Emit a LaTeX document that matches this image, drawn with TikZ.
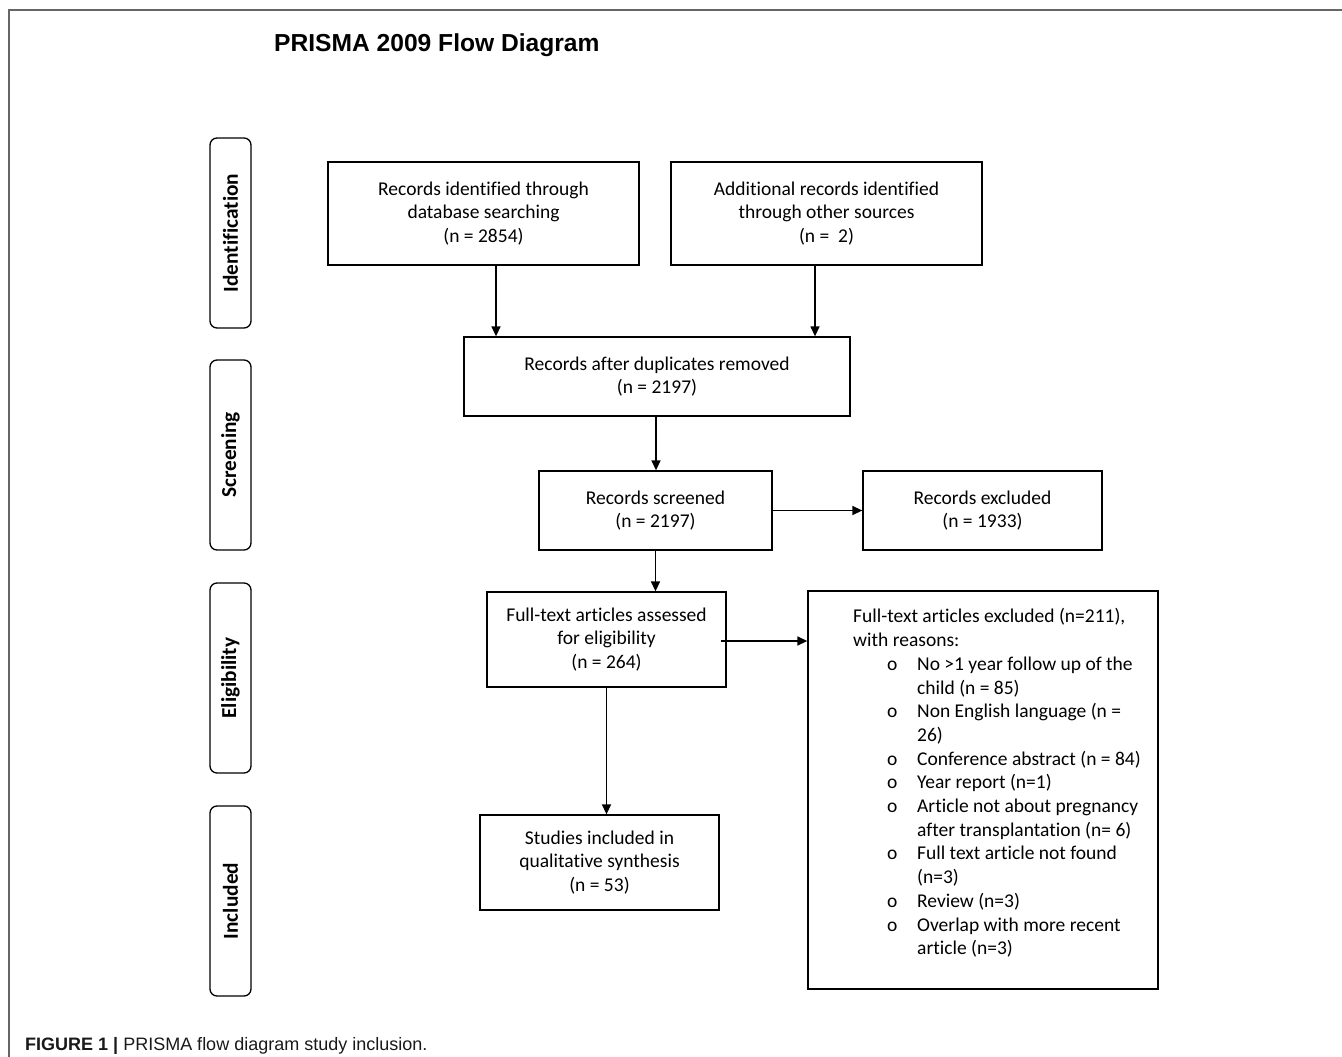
\documentclass[tikz,border=0pt]{standalone}
\usepackage{fontspec}
\setmainfont[Ligatures=NoCommon]{Carlito}
\newfontfamily\arialfont{Liberation Sans}
\usetikzlibrary{arrows.meta}
\begin{document}
\begin{tikzpicture}[x=1pt,y=-1pt,
  txt/.style={font=\fontsize{19.5}{23.7}\selectfont},
  box/.style={draw, line width=1.3pt, inner sep=0pt, align=center, txt},
  side/.style={draw, line width=1.3pt, rounded corners=7pt, inner sep=0pt, minimum width=41pt, minimum height=190pt},
  sidelabel/.style={rotate=90, font=\fontsize{21.3}{24}\selectfont\bfseries},
  arr/.style={line width=1.4pt, -{Triangle[length=10pt,width=9pt]}},
  frame/.style={draw=black!60, line width=1.5pt}
]
\useasboundingbox (0,0) rectangle (1342,1057);
\coordinate (fbl) at (9,1057);
\coordinate (ftl) at (9,10);
\coordinate (ftr) at (1342,10);
\draw[frame] (fbl) -- (ftl) -- (ftr);

\node[anchor=base west, inner sep=0pt, font=\arialfont\bfseries\fontsize{24.6}{28}\selectfont] (title) at (274,52) {PRISMA 2009 Flow Diagram};
\node[anchor=base west, inner sep=0pt, font=\arialfont\fontsize{18}{21}\selectfont, text=black!90] (caption) at (25,1050) {\textbf{FIGURE 1 |} PRISMA flow diagram study inclusion.};

% side labels
\node[side] (sid) at (230.5,233) {};
\node[sidelabel] (sidt) at (sid.center) {Identification};
\node[side] (sscr) at (230.5,455) {};
\node[sidelabel] (sscrt) at (sscr.center) {Screening};
\node[side] (selig) at (230.5,678) {};
\node[sidelabel] (seligt) at (selig.center) {Eligibility};
\node[side] (sinc) at (230.5,901) {};
\node[sidelabel] (sinct) at (sinc.center) {Included};

% main boxes
\node[box, minimum width=311pt, minimum height=103pt] (A) at (483.5,213.5) {Records identified through\\database searching\\(n = 2854)};
\node[box, minimum width=311pt, minimum height=103pt] (B) at (826.5,213.5) {Additional records identified\\through other sources\\(n =\ \ 2)};
\node[box, minimum width=386pt, minimum height=79pt] (C) at (657,376.5) {Records after duplicates removed\\(n = 2197)};
\node[box, minimum width=233pt, minimum height=79pt] (D) at (655.5,510.5) {Records screened\\(n = 2197)};
\node[box, minimum width=239pt, minimum height=79pt] (E) at (982.5,510.5) {Records excluded\\(n = 1933)};
\node[box, minimum width=239pt, minimum height=95pt] (F) at (606.5,639.5) {Full-text articles assessed\\for eligibility\\(n = 264)};
\node[box, minimum width=350pt, minimum height=398pt] (G) at (983,790) {};
\node[box, minimum width=239pt, minimum height=95pt] (H) at (599.5,862.5) {Studies included in\\qualitative synthesis\\(n = 53)};

\newcommand{\blt}{\makebox[64pt][l]{\hspace{34pt}o}}
\newcommand{\bind}{\hspace{64pt}}
\node[anchor=north west, inner sep=0pt, align=left, txt] (Gtext) at (853,608.5) {%
Full-text articles excluded (n=211),\\
with reasons:\\
\blt No >1 year follow up of the\\
\bind child (n = 85)\\
\blt Non English language (n =\\
\bind 26)\\
\blt Conference abstract (n = 84)\\
\blt Year report (n=1)\\
\blt Article not about pregnancy\\
\bind after transplantation (n= 6)\\
\blt Full text article not found\\
\bind (n=3)\\
\blt Review (n=3)\\
\blt Overlap with more recent\\
\bind article (n=3)};

% connectors
\draw[arr] ([xshift=12.5pt]A.south) -- ([xshift=12.5pt]A.south |- C.north);
\draw[arr] ([xshift=-11.5pt]B.south) -- ([xshift=-11.5pt]B.south |- C.north);
\draw[arr] ([xshift=-1pt]C.south) -- ([xshift=-1pt]C.south |- D.north);
\draw[arr] (D.east) -- (D.east -| E.west);
\draw[arr] (D.south) -- (D.south |- F.north);
\draw[arr] ([xshift=-6pt,yshift=-1.5pt]F.east) -- ([yshift=-1.5pt]F.east -| G.west);
\draw[arr] (F.south) -- (F.south |- H.north);
\end{tikzpicture}
\end{document}
